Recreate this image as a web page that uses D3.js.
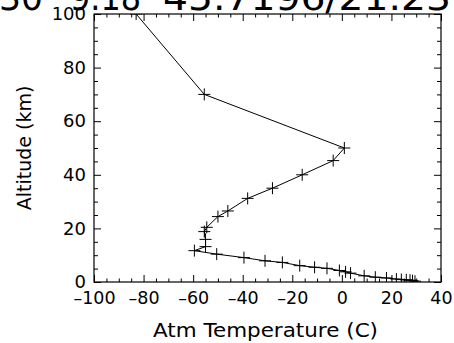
<!DOCTYPE html>
<html>
<head>
<meta charset="utf-8">
<script src="https://cdn.jsdelivr.net/npm/d3@7"></script>
<style>
  body { margin: 0; background: #fff; }
  svg { display: block; font-family: "DejaVu Sans", sans-serif; }
</style>
</head>
<body>
<svg id="chart" width="454" height="343"></svg>
<script>
// profile values, top of the atmosphere down to the ground
const temps = [-83, -55.5, 1, -3.5, -16, -28, -38, -46, -50, -54.5, -55.5, -55, -55, -59.5,
  -50.5, -39.5, -31, -24, -17, -11, -6, -1, 1.5, 3.5, 9, 13.5, 18, 22, 24, 26, 27.5, 28.5, 29.5];
const alts = [100, 70, 50, 45.3, 40, 35, 31.2, 26.5, 24.4, 20.4, 18.8, 15.9, 13.2, 11.7,
  10.4, 9.1, 7.9, 7.3, 6.1, 5.5, 5.1, 4.3, 3.8, 3.3, 2.3, 1.8, 1.5, 1.1, 0.9, 0.8, 0.7, 0.5, 0.3];
const xTicks = [-100, -80, -60, -40, -20, 0, 20, 40];
const yTicks = [0, 20, 40, 60, 80, 100];
const titleParts = ["30", "9.18", "45.7196/21.23"];

const W = 454, H = 343;
const M = { left: 94, right: 13, top: 14, bottom: 61 };
const iw = W - M.left - M.right, ih = H - M.top - M.bottom;

const svg = d3.select('#chart');
const g = svg.append('g').attr('transform', `translate(${M.left},${M.top})`);

const x = d3.scaleLinear().domain([-100, 40]).range([0, iw]);
const y = d3.scaleLinear().domain([0, 100]).range([ih, 0]);
const xMinor = d3.range(-100, 41, 5).filter(v => !xTicks.includes(v));
const yMinor = d3.range(0, 101, 5).filter(v => !yTicks.includes(v));

function tickAxis(axisFn, scale, vals, size, fmt, tx, ty, pad) {
  const a = axisFn(scale).tickValues(vals).tickSizeInner(-size).tickSizeOuter(0).tickPadding(pad || 8);
  a.tickFormat(fmt ? fmt : () => '');
  const sel = g.append('g').attr('transform', `translate(${tx},${ty})`).call(a);
  sel.select('.domain').remove();
  sel.selectAll('line').attr('stroke', '#000');
  return sel;
}

const minus = d => String(d).replace('-', '\u2013');
// bottom / top
const xb = tickAxis(d3.axisBottom, x, xTicks, 7, minus, 0, ih, 10);
tickAxis(d3.axisBottom, x, xMinor, 3.5, null, 0, ih);
tickAxis(d3.axisTop, x, xTicks, 7, null, 0, 0);
tickAxis(d3.axisTop, x, xMinor, 3.5, null, 0, 0);
// left / right
const yl = tickAxis(d3.axisLeft, y, yTicks, 7, d => d, 0, 0);
tickAxis(d3.axisLeft, y, yMinor, 4, null, 0, 0);
tickAxis(d3.axisRight, y, yTicks, 7, null, iw, 0);
tickAxis(d3.axisRight, y, yMinor, 4, null, iw, 0);

xb.selectAll('text').attr('font-size', 17.5).attr('font-family', 'DejaVu Sans').attr('fill', '#000');
yl.selectAll('text').attr('font-size', 18).attr('font-family', 'DejaVu Sans').attr('fill', '#000');

g.append('rect').attr('width', iw).attr('height', ih)
  .attr('fill', 'none').attr('stroke', '#000').attr('stroke-width', 1.2);

svg.append('clipPath').attr('id', 'clip').append('rect').attr('width', iw).attr('height', ih);
const plot = g.append('g').attr('clip-path', 'url(#clip)');

const pts = temps.map((t, i) => [t, alts[i]]);
plot.append('path').datum(pts)
  .attr('fill', 'none').attr('stroke', '#000').attr('stroke-width', 1)
  .attr('d', d3.line().x(d => x(d[0])).y(d => y(d[1])));

const r = 6;
plot.selectAll('path.mk').data(pts).enter().append('path')
  .attr('class', 'mk')
  .attr('stroke', '#000').attr('stroke-width', 1)
  .attr('d', d => {
    const px = x(d[0]), py = y(d[1]);
    return `M${px - r},${py}H${px + r}M${px},${py - r}V${py + r}`;
  });

svg.append('text').attr('x', 153).attr('y', 337)
  .attr('font-size', 19).attr('textLength', 225).attr('lengthAdjust', 'spacingAndGlyphs')
  .text('Atm Temperature (C)');
svg.append('text').attr('transform', `translate(31,${M.top + ih / 2}) rotate(-90)`)
  .attr('text-anchor', 'middle').attr('font-size', 19).text('Altitude (km)');

// title sits mostly above the window, as in the reference
const titlePos = [{ x: -1, len: 44 }, { x: 70, len: 71 }, { x: 163, len: 288 }];
titleParts.forEach((s, i) => {
  svg.append('text').attr('x', titlePos[i].x).attr('y', 10)
    .attr('font-size', 36).attr('textLength', titlePos[i].len).attr('lengthAdjust', 'spacingAndGlyphs')
    .text(s);
});
</script>
</body>
</html>
